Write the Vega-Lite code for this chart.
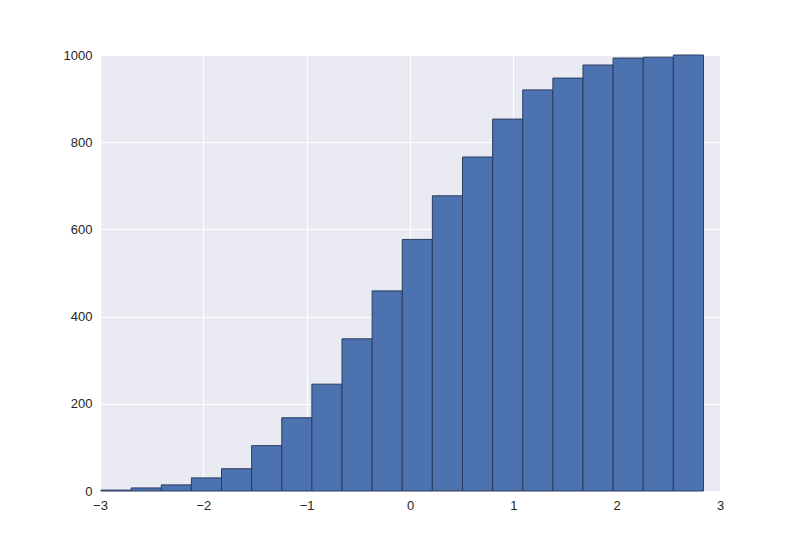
{
  "$schema": "https://vega.github.io/schema/vega-lite/v6.json",
  "width": 620,
  "height": 436,
  "autosize": {"type": "none"},
  "padding": {"left": 100, "top": 55, "right": 80, "bottom": 55},
  "background": "white",
  "config": {
    "view": {"fill": "#EAEAF2", "stroke": null},
    "axis": {
      "labelFont": "Liberation Sans",
      "labelFontSize": 13,
      "labelColor": "#262626",
      "labelFlush": false,
      "labelOverlap": false,
      "grid": true,
      "gridColor": "white",
      "gridWidth": 1.2,
      "domain": false,
      "ticks": false,
      "title": null
    }
  },
  "data": {
    "values": [
      {"start": -2.99, "end": -2.6985, "count": 2},
      {"start": -2.6985, "end": -2.407, "count": 7},
      {"start": -2.407, "end": -2.1155, "count": 14},
      {"start": -2.1155, "end": -1.824, "count": 30},
      {"start": -1.824, "end": -1.5325, "count": 51},
      {"start": -1.5325, "end": -1.241, "count": 104},
      {"start": -1.241, "end": -0.9495, "count": 168},
      {"start": -0.9495, "end": -0.658, "count": 245},
      {"start": -0.658, "end": -0.3665, "count": 349},
      {"start": -0.3665, "end": -0.075, "count": 459},
      {"start": -0.075, "end": 0.2165, "count": 577},
      {"start": 0.2165, "end": 0.508, "count": 677},
      {"start": 0.508, "end": 0.7995, "count": 766},
      {"start": 0.7995, "end": 1.091, "count": 853},
      {"start": 1.091, "end": 1.3825, "count": 920},
      {"start": 1.3825, "end": 1.674, "count": 947},
      {"start": 1.674, "end": 1.9655, "count": 977},
      {"start": 1.9655, "end": 2.257, "count": 993},
      {"start": 2.257, "end": 2.5485, "count": 995},
      {"start": 2.5485, "end": 2.84, "count": 1000}
    ]
  },
  "mark": {"type": "bar", "fill": "#4C72B0", "stroke": "#2a3d60", "strokeWidth": 1},
  "encoding": {
    "x": {
      "field": "start",
      "type": "quantitative",
      "scale": {"domain": [-3, 3], "nice": false, "zero": false},
      "axis": {"values": [-3, -2, -1, 0, 1, 2, 3], "labelPadding": 8, "format": "d", "labelExpr": "replace(datum.label, '-', '−')"}
    },
    "x2": {"field": "end"},
    "y": {
      "field": "count",
      "type": "quantitative",
      "stack": null,
      "scale": {"domain": [0, 1000], "nice": false},
      "axis": {"values": [0, 200, 400, 600, 800, 1000], "labelPadding": 8, "format": "d"}
    },
    "y2": {"datum": 0}
  }
}
